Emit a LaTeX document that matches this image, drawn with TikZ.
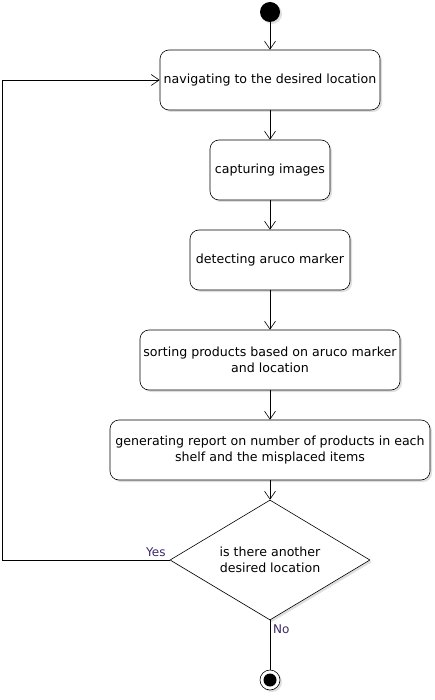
\documentclass[tikz,border=0pt]{standalone}
\usepackage{fontspec}
\setmainfont{DejaVu Sans}
\usetikzlibrary{arrows.meta,shapes.geometric,shadows}
\definecolor{lbl}{RGB}{60,40,100}
\begin{document}
\begin{tikzpicture}[x=1pt,y=-1pt,
  act/.style={draw, semithick, rounded corners=9pt, fill=white, align=center, inner sep=0pt, font=\fontsize{12.6}{15.5}\selectfont,
    drop shadow={opacity=0.25, shadow xshift=2pt, shadow yshift=-2pt}},
  flow/.style={draw, semithick, -{Straight Barb[length=8pt,width=11pt]}},
  lab/.style={font=\fontsize{12}{14}\selectfont, text=lbl, inner sep=1pt}]
\useasboundingbox (0,0) rectangle (435,700);
\node[circle, fill=black, minimum size=20pt, inner sep=0pt, drop shadow={opacity=0.25, shadow xshift=2pt, shadow yshift=-2pt}] (start) at (270,12) {};
\node[act, minimum width=220pt, minimum height=60pt] (a1) at (270,80) {navigating to the desired location};
\node[act, minimum width=120pt, minimum height=60pt] (a2) at (270,170) {capturing images};
\node[act, minimum width=160pt, minimum height=60pt] (a3) at (270,260) {detecting aruco marker};
\node[act, minimum width=260pt, minimum height=60pt] (a4) at (270,360) {sorting products based on aruco marker\\and location};
\node[act, minimum width=320pt, minimum height=60pt] (a5) at (270,450) {generating report on number of products in each\\shelf and the misplaced items};
\node[diamond, draw, semithick, fill=white, minimum width=200pt, minimum height=120pt, inner sep=0pt, aspect=1.667, align=center, font=\fontsize{12.6}{15.5}\selectfont,
  drop shadow={opacity=0.25, shadow xshift=2pt, shadow yshift=-2pt}] (d) at (270,560) {is there another\\desired location};
\node[circle, draw, semithick, fill=white, minimum size=20pt, inner sep=0pt, drop shadow={opacity=0.25, shadow xshift=2pt, shadow yshift=-2pt}] (end) at (270,680) {};
\node[circle, fill=black, minimum size=13pt, inner sep=0pt] (endin) at (270,680) {};
\coordinate (lx) at (2,0);
\draw[flow] (start) -- (a1);
\draw[flow] (a1) -- (a2);
\draw[flow] (a2) -- (a3);
\draw[flow] (a3) -- (a4);
\draw[flow] (a4) -- (a5);
\draw[flow] (a5) -- (d.north);
\draw[flow] (d.west) -- (lx |- d.west) -- (lx |- a1.west) -- (a1.west);
\draw[semithick] (d.south) -- (end.north);
\node[lab, anchor=south east] at ([xshift=-3pt,yshift=2pt]d.west) {Yes};
\node[lab, anchor=north west] at ([xshift=2pt,yshift=-3pt]d.south) {No};
\end{tikzpicture}
\end{document}
